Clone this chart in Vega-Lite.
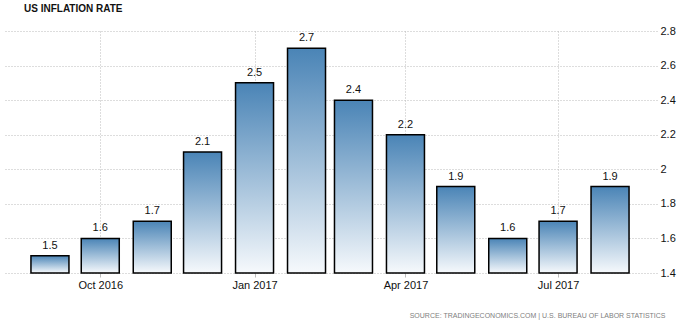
{
  "$schema": "https://vega.github.io/schema/vega-lite/v6.json",
  "width": 654,
  "height": 242,
  "autosize": "none",
  "padding": {"left": 3, "top": 31, "right": 26, "bottom": 51},
  "background": "white",
  "title": {
    "text": "US INFLATION RATE",
    "anchor": "start",
    "frame": "group",
    "dx": 21,
    "offset": 11,
    "baseline": "top",
    "font": "Liberation Sans",
    "fontSize": 10,
    "fontWeight": "bold",
    "color": "#111111"
  },
  "config": {
    "view": {"stroke": null},
    "axis": {"labelFont": "Liberation Sans", "titleFont": "Liberation Sans"}
  },
  "data": {
    "values": [
      {"date": "2016-09-01", "rate": 1.5},
      {"date": "2016-10-01", "rate": 1.6},
      {"date": "2016-11-01", "rate": 1.7},
      {"date": "2016-12-01", "rate": 2.1},
      {"date": "2017-01-01", "rate": 2.5},
      {"date": "2017-02-01", "rate": 2.7},
      {"date": "2017-03-01", "rate": 2.4},
      {"date": "2017-04-01", "rate": 2.2},
      {"date": "2017-05-01", "rate": 1.9},
      {"date": "2017-06-01", "rate": 1.6},
      {"date": "2017-07-01", "rate": 1.7},
      {"date": "2017-08-01", "rate": 1.9}
    ]
  },
  "encoding": {
    "x": {
      "field": "date",
      "type": "temporal",
      "scale": {
        "type": "utc",
        "padding": 0,
        "domain": [
          {"year": 2016, "month": 8, "date": 4, "utc": true},
          {"year": 2017, "month": 8, "date": 29, "utc": true}
        ]
      },
      "axis": {
        "values": [
          {"year": 2016, "month": 10, "date": 1, "utc": true},
          {"year": 2017, "month": 1, "date": 1, "utc": true},
          {"year": 2017, "month": 4, "date": 1, "utc": true},
          {"year": 2017, "month": 7, "date": 1, "utc": true}
        ],
        "labelExpr": "utcFormat(datum.value, '%b %Y')",
        "labelFontSize": 11,
        "labelColor": "#111111",
        "labelPadding": 2,
        "tickSize": 4,
        "tickColor": "#bbbbbb",
        "domain": false,
        "grid": true,
        "gridDash": [1, 2],
        "gridColor": "#bbbbbb",
        "title": "SOURCE: TRADINGECONOMICS.COM | U.S. BUREAU OF LABOR STATISTICS",
        "titleFont": "Liberation Sans",
        "titleFontSize": 7,
        "titleFontWeight": "normal",
        "titleColor": "#808080",
        "titleAlign": "right",
        "titleAnchor": "end",
        "titleX": 662,
        "titleY": 45,
        "titleBaseline": "bottom"
      }
    },
    "y": {
      "field": "rate",
      "type": "quantitative",
      "scale": {"domain": [1.4, 2.8], "zero": false, "nice": false},
      "axis": {
        "orient": "right",
        "values": [1.4, 1.6, 1.8, 2.0, 2.2, 2.4, 2.6, 2.8],
        "format": "~g",
        "labelFontSize": 11,
        "labelColor": "#111111",
        "labelPadding": 3,
        "ticks": false,
        "domain": false,
        "grid": true,
        "gridDash": [1, 2],
        "gridColor": "#bbbbbb",
        "title": null
      }
    }
  },
  "layer": [
    {
      "mark": {
        "type": "bar",
        "width": 38,
        "stroke": "#000000",
        "strokeWidth": 1.5,
        "color": {
          "gradient": "linear",
          "x1": 0, "y1": 0, "x2": 0, "y2": 1,
          "stops": [
            {"offset": 0, "color": "#4a84b6"},
            {"offset": 1, "color": "#f6f9fc"}
          ]
        }
      },
      "encoding": {"y2": {"datum": 1.4}}
    },
    {
      "mark": {
        "type": "text",
        "baseline": "bottom",
        "dy": -5,
        "font": "Liberation Sans",
        "fontSize": 11,
        "color": "#111111"
      },
      "encoding": {"text": {"field": "rate", "type": "quantitative", "format": ".1f"}}
    }
  ]
}
